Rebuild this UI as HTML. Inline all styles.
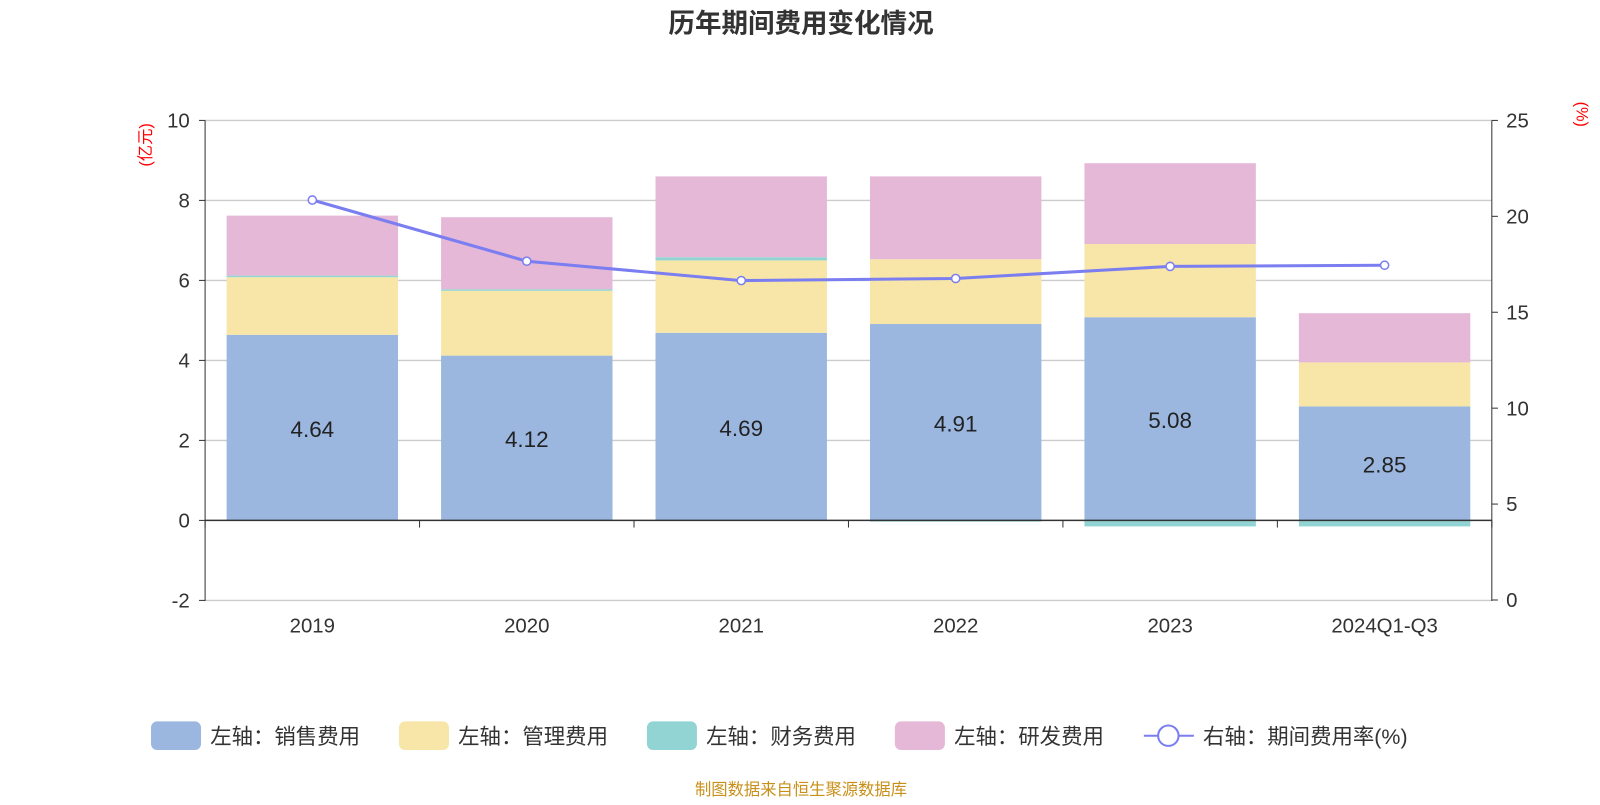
<!DOCTYPE html>
<html><head><meta charset="utf-8"><style>
body{margin:0;background:#fff;width:1600px;height:800px;overflow:hidden;font-family:"Liberation Sans","Noto Sans CJK SC",sans-serif}
</style></head><body>
<svg width="1600" height="800" xmlns="http://www.w3.org/2000/svg"><g id="c" transform="scale(1.0204)"></g></svg>
<script>
const categories=["2019","2020","2021","2022","2023","2024Q1-Q3"];
const sales=[4.64,4.12,4.69,4.91,5.08,2.85];
const mgmt=[1.44,1.62,1.81,1.62,1.83,1.10];
const fin=[0.04,0.04,0.08,-0.03,-0.15,-0.15];
const rd=[1.50,1.80,2.02,2.07,2.02,1.23];
const rate=[20.85,17.66,16.65,16.76,17.39,17.45];
const leftTicks=[-2,0,2,4,6,8,10];
const rightTicks=[0,5,10,15,20,25];
const NS="http://www.w3.org/2000/svg",svg=document.getElementById('c');
const X0=201,X1=1462,bw=(X1-X0)/categories.length,barW=168;
const yL=v=>510-v*39.2, yR=v=>588-v*18.8;
function mk(t,a,txt){const e=document.createElementNS(NS,t);for(const k in a)e.setAttribute(k,a[k]);if(txt!=null)e.textContent=txt;svg.appendChild(e);return e;}
let e;
e=mk('text',{x:785,y:32,'text-anchor':'middle','font-size':26,'font-weight':'bold',fill:'#333'},'历年期间费用变化情况');

leftTicks.forEach(v=>{
 if(v!==0){e=mk('line',{x1:X0,x2:X1,y1:yL(v),y2:yL(v),stroke:'#ccc','stroke-width':1.3});}
 mk('line',{x1:X0-6,x2:X0,y1:yL(v),y2:yL(v),stroke:'#333'});
 e=mk('text',{x:186,y:yL(v)+7,'text-anchor':'end','font-size':20,fill:'#333'},v);
 
});
rightTicks.forEach(v=>{
 mk('line',{x1:X1,x2:X1+6,y1:yR(v),y2:yR(v),stroke:'#333'});
 e=mk('text',{x:1476,y:yR(v)+7,'font-size':20,fill:'#333'},v);
 
});
e=mk('line',{x1:X0,x2:X0,y1:118,y2:589,stroke:'#333'});
e=mk('line',{x1:X1,x2:X1,y1:118,y2:589,stroke:'#333'});
e=mk('text',{transform:'translate(148,142) rotate(-90)','text-anchor':'middle','font-size':16,fill:'red'},'(亿元)');
e=mk('text',{transform:'translate(1545,112) rotate(90)','text-anchor':'middle','font-size':16,fill:'red'},'(%)');
const cols={sales:'#9bb7e0',mgmt:'#f7e6a8',fin:'#92d3d3',rd:'#e6b8d8'};
categories.forEach((c,i)=>{
 const cx=X0+bw*(i+0.5),x=cx-barW/2;
 let pos=0,neg=0;
 [['sales',sales[i]],['mgmt',mgmt[i]],['fin',fin[i]],['rd',rd[i]]].forEach(([k,v])=>{
  let a,b;if(v>=0){a=pos;b=pos+v;pos=b;}else{a=neg;b=neg+v;neg=b;}
  const r=mk('rect',{x:x,y:Math.min(yL(a),yL(b)),width:barW,height:Math.abs(yL(a)-yL(b)),fill:cols[k]});
  
 });
 e=mk('text',{x:cx,y:yL(sales[i]/2)+9,'text-anchor':'middle','font-size':22,fill:'#222'},sales[i].toFixed(2));
 
 e=mk('text',{x:cx,y:620,'text-anchor':'middle','font-size':20,fill:'#333'},c);
 
});
e=mk('line',{x1:X0,x2:X1,y1:yL(0),y2:yL(0),stroke:'#333','stroke-width':1.5});
for(let i=0;i<=categories.length;i++)mk('line',{x1:X0+bw*i,x2:X0+bw*i,y1:510,y2:517,stroke:'#333'});
const pts=rate.map((v,i)=>[X0+bw*(i+0.5),yR(v)]);
e=mk('polyline',{points:pts.map(p=>p.join(',')).join(' '),fill:'none',stroke:'#7b7ef0','stroke-width':3});

pts.forEach(p=>{e=mk('circle',{cx:p[0],cy:p[1],r:4,fill:'#fff',stroke:'#7b7ef0','stroke-width':1.5});});
const leg=[['左轴：销售费用',cols.sales,148],['左轴：管理费用',cols.mgmt,391],['左轴：财务费用',cols.fin,634],['左轴：研发费用',cols.rd,877]];
leg.forEach(([t,c,x])=>{
 e=mk('rect',{x:x,y:707,width:49,height:28,rx:6,fill:c});
 e=mk('text',{x:x+58,y:729,'font-size':21,fill:'#333'},t);
});
mk('line',{x1:1121,x2:1170,y1:721,y2:721,stroke:'#7b7ef0','stroke-width':2});
mk('circle',{cx:1145,cy:721,r:10,fill:'#fff',stroke:'#7b7ef0','stroke-width':2});
e=mk('text',{x:1179,y:729,'font-size':21,fill:'#333'},'右轴：期间费用率(%)');
e=mk('text',{x:785,y:779,'text-anchor':'middle','font-size':16,fill:'#c8901a'},'制图数据来自恒生聚源数据库');
</script>
</body></html>
